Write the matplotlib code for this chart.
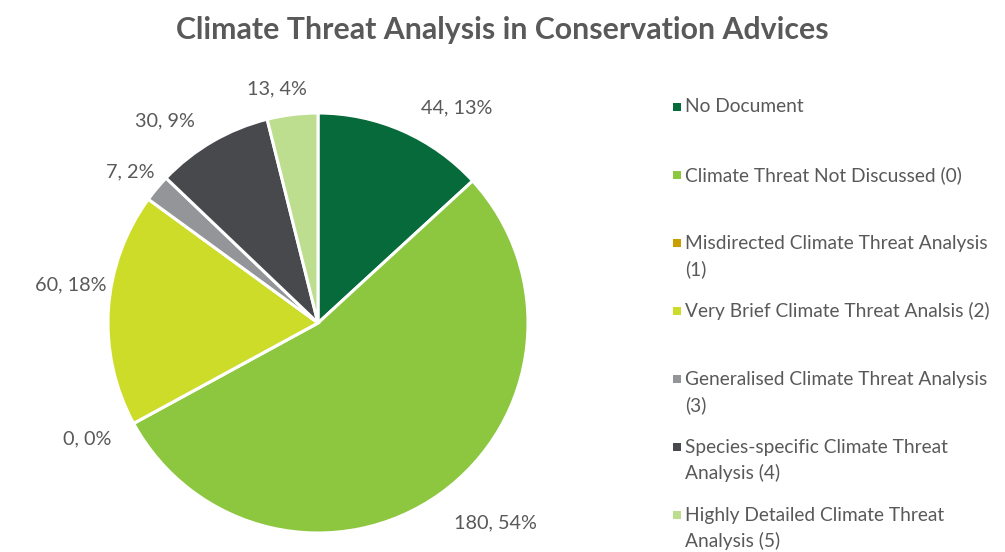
import matplotlib
matplotlib.use("Agg")
import matplotlib.pyplot as plt
import numpy as np

categories = [
    "No Document",
    "Climate Threat Not Discussed (0)",
    "Misdirected Climate Threat Analysis\n(1)",
    "Very Brief Climate Threat Analsis (2)",
    "Generalised Climate Threat Analysis\n(3)",
    "Species-specific Climate Threat\nAnalysis (4)",
    "Highly Detailed Climate Threat\nAnalysis (5)",
]
values = [44, 180, 0, 60, 7, 30, 13]
colors = ["#076A3B", "#8DC63F", "#C9A000", "#CDDB29", "#939598", "#48494D", "#BDDE8F"]
# small angular nudges (degrees) mimicking the original label placement
label_nudge = [-9, 6, -2, -5, 1, 7, 3]
label_dist = [1.22, 1.27, 1.23, 1.19, 1.15, 1.21, 1.13]

plt.rcParams['font.family'] = ['Lato', 'DejaVu Sans']
text_color = "#595959"

W, H = 1005, 552
fig = plt.figure(figsize=(W / 100, H / 100), dpi=100)
cx, cy, r = 318, 323, 210
ax = fig.add_axes([(cx - r) / W, (H - cy - r) / H, 2 * r / W, 2 * r / H])

wedges, _ = ax.pie(values, colors=colors, startangle=90, counterclock=False,
                   wedgeprops=dict(edgecolor="white", linewidth=2.2))
ax.set_xlim(-1, 1)
ax.set_ylim(-1, 1)
ax.set_aspect("equal")
ax.axis("off")

total = sum(values)
for w, v, nud, d in zip(wedges, values, label_nudge, label_dist):
    ang = np.deg2rad((w.theta1 + w.theta2) / 2 + nud)
    x, y = d * np.cos(ang), d * np.sin(ang)
    ax.text(x, y, f"{v}, {round(100 * v / total)}%", ha="center", va="center",
            fontsize=14.3, color=text_color, clip_on=False)

fig.text(0.5, 1 - 30 / H, "Climate Threat Analysis in Conservation Advices",
         ha="center", va="center", fontsize=21.8, fontweight="bold", color=text_color)

# legend
lx, ly0, step = 678, 107, 68
for i, (lab, c) in enumerate(zip(categories, colors)):
    y = ly0 + i * step
    fig.patches.append(plt.Rectangle(((lx - 5) / W, 1 - (y + 4) / H), 8 / W, 8 / H,
                                     transform=fig.transFigure, facecolor=c, edgecolor="none"))
    for j, ln in enumerate(lab.split("\n")):
        fig.text((lx + 7) / W, 1 - (y + j * 26) / H, ln, ha="left", va="center",
                 fontsize=13.8, color=text_color)

fig.savefig("out.png", dpi=100)
